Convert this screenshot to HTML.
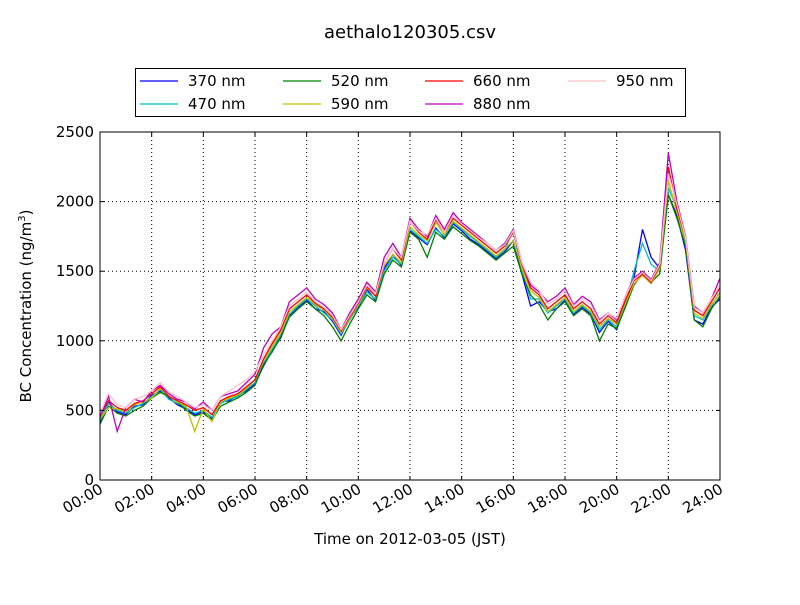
<!DOCTYPE html>
<html><head><meta charset="utf-8"><style>
body{margin:0;background:#fff;font-family:"Liberation Sans","DejaVu Sans",sans-serif}
svg text{font-family:"DejaVu Sans","Liberation Sans",sans-serif}
</style></head><body>
<svg id="c" width="800" height="600" xmlns="http://www.w3.org/2000/svg">
<rect width="800" height="600" fill="#fff"/>
<text x="410" y="38" font-size="18" text-anchor="middle">aethalo120305.csv</text>
<g id="grid"></g><g id="lines"></g>
<rect x="100" y="132" width="620" height="348" fill="none" stroke="#000" stroke-width="1"/>
<g id="axes"></g>
<text x="410" y="544" font-size="15" text-anchor="middle">Time on 2012-03-05 (JST)</text>
<text transform="translate(31,306) rotate(-90)" font-size="15" text-anchor="middle">BC Concentration (ng/m<tspan dy="-6" font-size="10">3</tspan><tspan dy="6">)</tspan></text>
<g id="legend"><rect x="135.5" y="68.5" width="550" height="48" fill="#fff" stroke="#000"/></g>
</svg>
<script>
const xTicks=["00:00","02:00","04:00","06:00","08:00","10:00","12:00","14:00","16:00","18:00","20:00","22:00","24:00"];
const yTicks=[0,500,1000,1500,2000,2500];
const seriesNames=["370 nm","470 nm","520 nm","590 nm","660 nm","880 nm","950 nm"];
const seriesColors=["#0000ff","#00bfbf","#008000","#bfbf00","#ff0000","#bf00bf","#ffc0cb"];
const stepMinutes=20;
const s370=[420,560,490,470,530,540,610,640,590,540,510,470,490,440,560,570,610,640,690,820,930,1020,1180,1240,1290,1230,1210,1140,1040,1160,1240,1370,1290,1520,1620,1540,1790,1740,1690,1810,1740,1840,1790,1730,1690,1640,1590,1640,1720,1480,1250,1280,1210,1230,1290,1190,1240,1190,1060,1140,1080,1260,1450,1800,1600,1520,2050,1900,1650,1150,1120,1240,1300];
const s470=[430,550,500,480,520,550,600,650,580,550,520,480,500,450,550,580,600,650,700,840,940,1040,1190,1250,1300,1250,1200,1150,1050,1150,1250,1350,1300,1500,1600,1550,1800,1750,1700,1800,1750,1850,1800,1750,1700,1650,1600,1650,1800,1500,1300,1300,1200,1250,1300,1200,1250,1200,1080,1150,1100,1250,1500,1700,1550,1500,2100,1950,1700,1180,1150,1250,1350];
const s520=[400,530,480,460,500,530,590,630,600,560,500,460,480,430,530,560,590,630,680,830,920,1030,1170,1230,1280,1230,1180,1100,1000,1120,1230,1330,1280,1480,1580,1530,1780,1730,1600,1780,1730,1820,1770,1720,1680,1630,1580,1630,1680,1480,1330,1260,1150,1230,1280,1180,1230,1180,1000,1120,1090,1240,1400,1480,1420,1480,2050,1880,1680,1150,1100,1230,1320];
const s590=[440,520,510,490,540,560,590,660,600,560,530,350,510,420,560,590,610,660,720,860,960,1060,1210,1260,1310,1260,1220,1160,1060,1160,1260,1380,1320,1540,1620,1560,1820,1760,1720,1850,1760,1860,1810,1760,1710,1660,1610,1660,1720,1520,1360,1310,1210,1260,1310,1210,1260,1210,1100,1160,1120,1270,1410,1470,1410,1520,2150,1920,1720,1200,1160,1260,1340];
const s660=[460,570,520,500,550,570,620,670,600,570,540,500,520,470,570,600,620,670,720,870,980,1080,1230,1280,1330,1270,1230,1170,1070,1170,1270,1390,1320,1560,1660,1580,1860,1780,1730,1870,1780,1880,1830,1780,1730,1680,1630,1680,1780,1550,1380,1330,1230,1280,1330,1230,1280,1230,1120,1180,1130,1290,1430,1480,1420,1540,2250,1950,1740,1220,1180,1280,1380];
const s880=[450,600,350,520,580,560,640,680,620,580,560,510,560,500,600,620,640,700,760,950,1050,1100,1280,1330,1380,1300,1260,1200,1080,1200,1300,1420,1350,1600,1700,1600,1880,1800,1750,1900,1800,1920,1850,1800,1750,1700,1650,1700,1800,1560,1400,1350,1280,1320,1380,1260,1320,1280,1150,1200,1150,1320,1450,1500,1440,1560,2350,2000,1750,1250,1200,1300,1450];
const s950=[480,620,540,520,580,600,640,700,630,600,560,520,540,500,600,640,680,720,780,900,1000,1100,1250,1300,1350,1280,1240,1180,1080,1180,1280,1400,1340,1560,1660,1600,1860,1790,1760,1880,1780,1900,1840,1790,1740,1700,1650,1690,1790,1560,1420,1360,1260,1300,1360,1250,1300,1260,1140,1200,1160,1320,1440,1490,1430,1550,2200,1980,1740,1240,1200,1300,1400];
const allSeries=[s370,s470,s520,s590,s660,s880,s950];
const NS="http://www.w3.org/2000/svg";
const X0=100,X1=720,Y0=480,Y1=132;
const xScale=m=>X0+(X1-X0)*m/1440;
const yScale=v=>Y0-(Y0-Y1)*v/2500;
function mk(tag,attrs,parent){const e=document.createElementNS(NS,tag);for(const k in attrs)e.setAttribute(k,attrs[k]);parent.appendChild(e);return e;}
const grid=document.getElementById('grid'),axes=document.getElementById('axes'),lines=document.getElementById('lines'),legend=document.getElementById('legend');
xTicks.forEach((t,i)=>{const x=xScale(i*120);
 if(i>0&&i<xTicks.length-1){const g=mk('line',{x1:x,x2:x,y1:Y1,y2:Y0,stroke:'#000','stroke-dasharray':'1,3','stroke-width':1},grid);
 
 }
 mk('line',{x1:x,x2:x,y1:Y0,y2:Y0-4,stroke:'#000'},axes);mk('line',{x1:x,x2:x,y1:Y1,y2:Y1+4,stroke:'#000'},axes);
 const tx=mk('text',{x:x+4,y:Y0+12,'font-size':15,'text-anchor':'end',transform:`rotate(-30 ${x+4} ${Y0+12})`},axes);tx.textContent=t;
 
 });
yTicks.forEach(v=>{const y=yScale(v);
 if(v>0&&v<2500){const g=mk('line',{x1:X0,x2:X1,y1:y,y2:y,stroke:'#000','stroke-dasharray':'1,3','stroke-width':1},grid);
 
 }
 mk('line',{x1:X0,x2:X0+4,y1:y,y2:y,stroke:'#000'},axes);mk('line',{x1:X1,x2:X1-4,y1:y,y2:y,stroke:'#000'},axes);
 const tx=mk('text',{x:X0-6,y:y+5,'font-size':15,'text-anchor':'end'},axes);tx.textContent=v;
 
 });
allSeries.forEach((s,i)=>{const d=s.map((v,j)=>(j?'L':'M')+xScale(j*stepMinutes).toFixed(1)+','+yScale(v).toFixed(1)).join('');
 const p=mk('path',{d:d,fill:'none',stroke:seriesColors[i],'stroke-width':1.3},lines);
 
 });
const legPos=[[140,81],[140,104],[283,81],[283,104],[425,81],[425,104],[568,81]];
seriesNames.forEach((n,i)=>{const [x,y]=legPos[i];
 const g=mk('g',{},legend);
 
 
 mk('line',{x1:x,x2:x+38,y1:y,y2:y,stroke:seriesColors[i],'stroke-width':1.3},g);
 const t=mk('text',{x:x+48,y:y+5,'font-size':15},g);t.textContent=n;});
</script>
</body></html>
